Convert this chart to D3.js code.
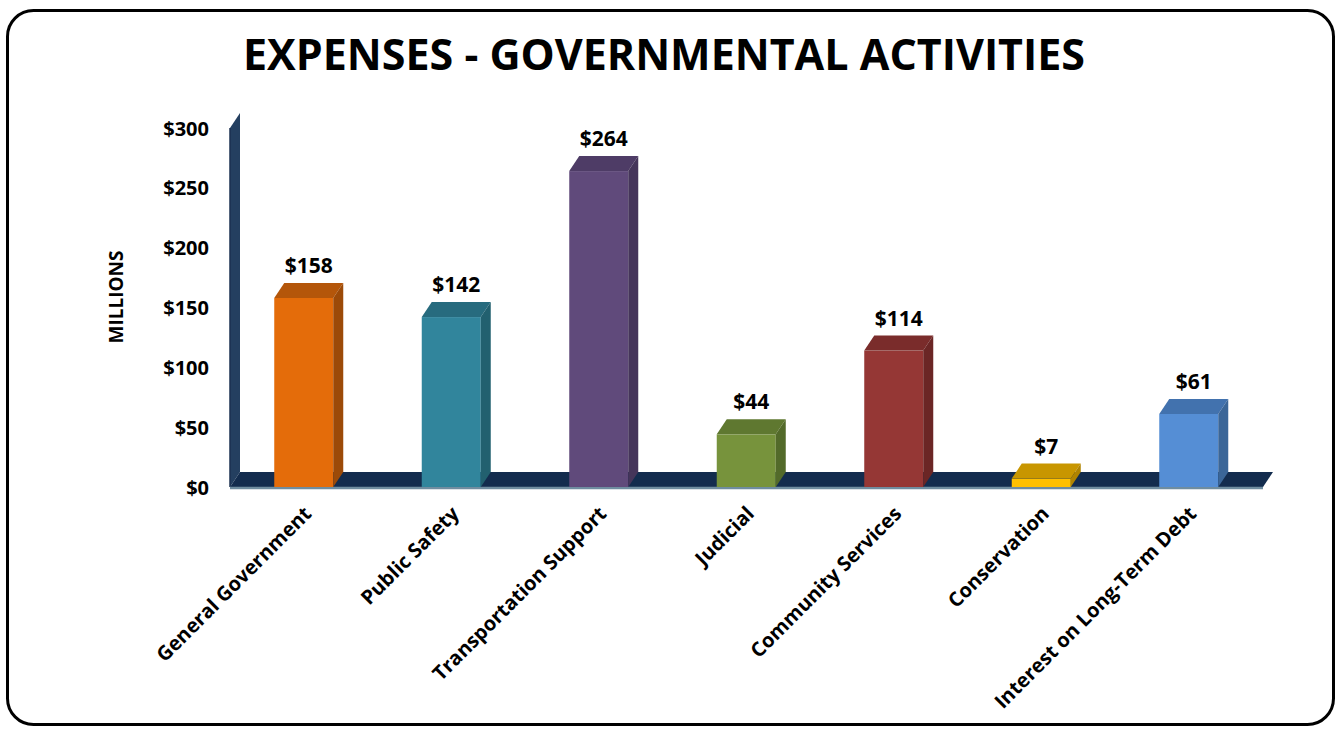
<!DOCTYPE html>
<html><head><meta charset="utf-8">
<script src="https://cdn.jsdelivr.net/npm/d3@7"></script>
<style>
html,body{margin:0;padding:0;background:#fff;}
text{font-family:"Open Sans","DejaVu Sans",sans-serif;font-weight:bold;fill:#000;}
</style></head>
<body><svg id="c" width="1336" height="729"></svg>
<script>
const categories = ["General Government","Public Safety","Transportation Support","Judicial","Community Services","Conservation","Interest on Long-Term Debt"];
const values = [158,142,264,44,114,7,61];
const valueLabels = ["$158","$142","$264","$44","$114","$7","$61"];
const frontColors = ["#E46C0A","#31859C","#604A7B","#77933C","#953735","#FFC000","#558ED5"];
const topColors   = ["#B4560A","#276B7E","#4E3C66","#5F7830","#7A2C2B","#C89600","#4272AE"];
const sideColors  = ["#9C4A08","#22606F","#45355A","#536A2A","#6B2625","#B08400","#3B6698"];
const yTicks = [0,50,100,150,200,250,300];

const svg = d3.select("#c");
svg.append("rect").attr("x",7.5).attr("y",10.5).attr("width",1326).attr("height",714)
  .attr("rx",26).attr("fill","#fff").attr("stroke","#000").attr("stroke-width",3);

svg.append("text").attr("x",664).attr("y",70).attr("text-anchor","middle")
  .style("font-size","43px").text("EXPENSES - GOVERNMENTAL ACTIVITIES");

const x = d3.scaleBand().domain(categories).range([230,1262.5]).paddingInner(0.6).paddingOuter(0.3);
const y = d3.scaleLinear().domain([0,300]).range([487,128]);
const dx = 10, dy = 15;
const y0 = y(0);

// wall
const g = svg.append("g");
g.append("polygon").attr("points",[[230,y0],[230,y(300)],[230+dx,y(300)-dy],[230+dx,y0-dy]].join(" "))
  .attr("fill","#243F60");
g.append("line").attr("x1",230).attr("x2",230).attr("y1",y(300)).attr("y2",y0).attr("stroke","#1B3150").attr("stroke-width",1.5);
// floor
const xr = 1263;
g.append("polygon").attr("points",[[230,y0],[230+dx,y0-dy],[xr+dx,y0-dy],[xr,y0]].join(" "))
  .attr("fill","#132C4E");
g.append("line").attr("x1",230).attr("x2",xr).attr("y1",y0+1).attr("y2",y0+1).attr("stroke","#6F8DA0").attr("stroke-width",2.5);

// y axis
const yAxis = d3.axisLeft(y).tickValues(yTicks).tickSize(0).tickPadding(0).tickFormat(d=>"$"+d);
const ya = svg.append("g").attr("transform","translate(209,0)").call(yAxis);
ya.select(".domain").remove();
ya.selectAll("text").attr("dy","0.35em").style("font-size","20px").style("font-family","'Open Sans',sans-serif").style("font-weight","bold").attr("fill","#000");

svg.append("text").attr("transform","translate(123,297) rotate(-90)").attr("text-anchor","middle")
  .style("font-size","19px").text("MILLIONS");

// bars
const bw = x.bandwidth();
const bars = svg.append("g").selectAll("g").data(categories).join("g");
bars.append("rect").attr("x",d=>x(d)).attr("y",(d,i)=>y(values[i])).attr("width",bw)
  .attr("height",(d,i)=>y0-y(values[i])).attr("fill",(d,i)=>frontColors[i]);
bars.append("polygon").attr("points",(d,i)=>{const X=x(d),Y=y(values[i]);
  return [[X,Y],[X+dx,Y-dy],[X+bw+dx,Y-dy],[X+bw,Y]].join(" ");}).attr("fill",(d,i)=>topColors[i]);
bars.append("polygon").attr("points",(d,i)=>{const X=x(d)+bw,Y=y(values[i]);
  return [[X,Y],[X+dx,Y-dy],[X+dx,y0-dy],[X,y0]].join(" ");}).attr("fill",(d,i)=>sideColors[i]);
bars.append("text").attr("x",d=>x(d)+bw/2+dx/2).attr("y",(d,i)=>y(values[i])-dy-10)
  .attr("text-anchor","middle").style("font-size","21px").text((d,i)=>valueLabels[i]);

// category labels
svg.append("g").selectAll("text").data(categories).join("text")
  .attr("transform",d=>`translate(${x(d)+bw/2+9},${y0+28}) rotate(-45)`)
  .attr("text-anchor","end").style("font-size","20px").text(d=>d);
</script></body></html>
